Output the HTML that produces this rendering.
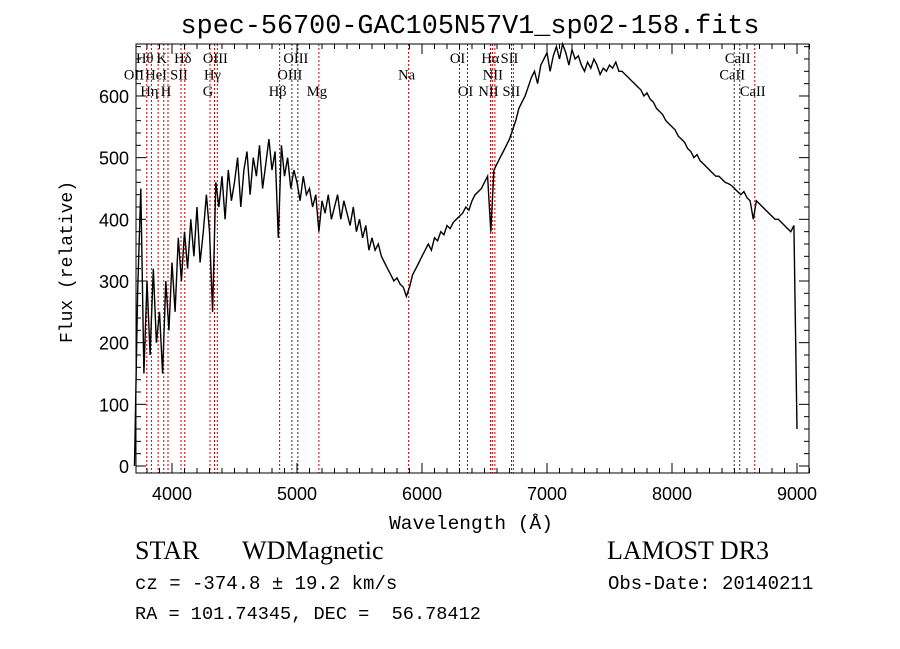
<!DOCTYPE html>
<html><head><meta charset="utf-8"><style>
body{margin:0;background:#fff;width:900px;height:649px;overflow:hidden}
svg{display:block}
text{fill:#000}
</style></head><body>
<svg id="chart" width="900" height="649" viewBox="0 0 900 649" xmlns="http://www.w3.org/2000/svg">
<rect width="900" height="649" fill="#fff"/>
<text x="470" y="33" text-anchor="middle" font-family="Liberation Mono, monospace" font-size="26.8">spec-56700-GAC105N57V1_sp02-158.fits</text>
<g id="lines"></g>
<g id="spec"></g>
<g id="axes"></g>
<text x="471" y="529" text-anchor="middle" font-family="Liberation Mono, monospace" font-size="19.5">Wavelength (Å)</text>
<text transform="translate(72,262) rotate(-90)" text-anchor="middle" font-family="Liberation Mono, monospace" font-size="18">Flux (relative)</text>
<text x="135" y="559" font-family="Liberation Serif, serif" font-size="26">STAR</text>
<text x="242" y="559" font-family="Liberation Serif, serif" font-size="26">WDMagnetic</text>
<text x="607" y="559" font-family="Liberation Serif, serif" font-size="26">LAMOST DR3</text>
<text x="135" y="589" font-family="Liberation Mono, monospace" font-size="19">cz = -374.8 ± 19.2 km/s</text>
<text x="608" y="589" font-family="Liberation Mono, monospace" font-size="19">Obs-Date: 20140211</text>
<text x="135" y="619" font-family="Liberation Mono, monospace" font-size="18.6">RA = 101.74345, DEC = &#160;56.78412</text>
</svg>
<script>
const wlStart = 3700, wlStep = 25;
const flux = [
0,280,450,150, 300,180,320,200, 250,150,300,220, 330,250,370,300, 380,320,400,340,
420,330,380,440, 380,250,460,420, 470,400,480,430, 460,500,420,480, 510,440,500,470,
520,450,490,530, 480,510,370,520, 470,500,450,480, 460,430,470,440, 450,420,440,380,
430,410,440,400, 420,440,400,430, 410,390,420,380, 400,370,390,350, 370,350,360,340,
330,320,310,300, 305,295,290,275, 290,310,320,330, 340,350,360,350, 370,365,380,375,
390,385,395,400, 405,410,420,415, 430,440,445,450, 460,470,380,480, 490,500,510,520,
530,545,560,580, 590,600,615,630, 640,620,650,660, 670,640,665,680, 660,685,670,650,
675,660,665,650, 640,655,645,660, 650,635,645,640, 650,645,655,640, 640,635,630,625,
620,615,610,600, 605,595,590,580, 575,570,560,555, 550,545,535,530, 525,515,510,500,
505,495,490,485, 480,475,470,470, 465,460,458,455, 450,445,440,445, 435,430,400,430,
425,420,415,410, 405,400,400,395, 390,385,380,390, 60
];
const lineWl = [3712,3798,3835,3889,3934,3968,4072,4102,4304,4340,4363,4861,4959,5007,5175,5893,6300,6364,6548,6563,6583,6716,6731,8498,8542,8662];
const lineNames = ["OII","Hθ","Hη","HeI","K","H","SII","Hδ","G","Hγ","OIII","Hβ","OIII","OIII","Mg","Na","OI","OI","NII","Hα","NII","SII","SII","CaII","CaII","CaII"];
const lineRow = [1,0,2,1,0,2,1,0,2,1,0,2,1,0,2,1,0,2,2,0,1,0,2,1,0,2];
const lineDark = [1,0,0,0,0,0,0,0,0,0,0,0,1,1,0,0,1,1,0,0,0,0,0,1,1,0];
const yTicks = [0,100,200,300,400,500,600];
const xTicks = [4000,5000,6000,7000,8000,9000];

const L=136,R=809,T=44,B=473;
const X = w => 172 + (w-4000)*0.125;
const Y = v => 466 - v*0.6167;
const NS="http://www.w3.org/2000/svg";
function mk(tag, attrs, parent){const e=document.createElementNS(NS,tag);for(const k in attrs)e.setAttribute(k,attrs[k]);parent.appendChild(e);return e;}

const lg=document.getElementById('lines');
lineWl.forEach((w,i)=>{
  const l=mk('line',{x1:X(w),x2:X(w),y1:T,y2:B,stroke:lineDark[i]?'#333':'#c00000','stroke-width':1,'stroke-dasharray':'2,2'},lg);
  
  
  const t=mk('text',{x:X(w)-2,y:63+lineRow[i]*16.5,'font-family':'Liberation Serif, serif','font-size':14.5,'text-anchor':'middle'},lg);
  t.textContent=lineNames[i];
  
  
});

const sg=document.getElementById('spec');
let d='';
flux.forEach((f,i)=>{const w=wlStart+i*wlStep;d+=(i?'L':'M')+X(w).toFixed(1)+','+Math.min(B,Math.max(T,Y(f))).toFixed(1);});
const p=mk('path',{d:d,fill:'none',stroke:'#000','stroke-width':1.4},sg);



const ag=document.getElementById('axes');
const fr=mk('rect',{x:L,y:T,width:R-L,height:B-T,fill:'none',stroke:'#000','stroke-width':1},ag);


for(let w=3800;w<=9100;w+=100){
  const big=w%1000===0,len=big?10:5;
  mk('line',{x1:X(w),x2:X(w),y1:B,y2:B-len,stroke:'#000'},ag);
  mk('line',{x1:X(w),x2:X(w),y1:T,y2:T+len,stroke:'#000'},ag);
}
for(let v=0;v<=680;v+=20){
  const big=v%100===0,len=big?10:5;
  mk('line',{x1:L,x2:L+len,y1:Y(v),y2:Y(v),stroke:'#000'},ag);
  mk('line',{x1:R,x2:R-len,y1:Y(v),y2:Y(v),stroke:'#000'},ag);
}
xTicks.forEach(w=>{
  const t=mk('text',{x:X(w),y:500,'text-anchor':'middle','font-family':'Liberation Sans, sans-serif','font-size':18},ag);
  t.textContent=w;
  
  
});
yTicks.forEach(v=>{
  const t=mk('text',{x:129,y:Y(v)+7,'text-anchor':'end','font-family':'Liberation Sans, sans-serif','font-size':18},ag);
  t.textContent=v;
  
  
});
</script>
</body></html>
